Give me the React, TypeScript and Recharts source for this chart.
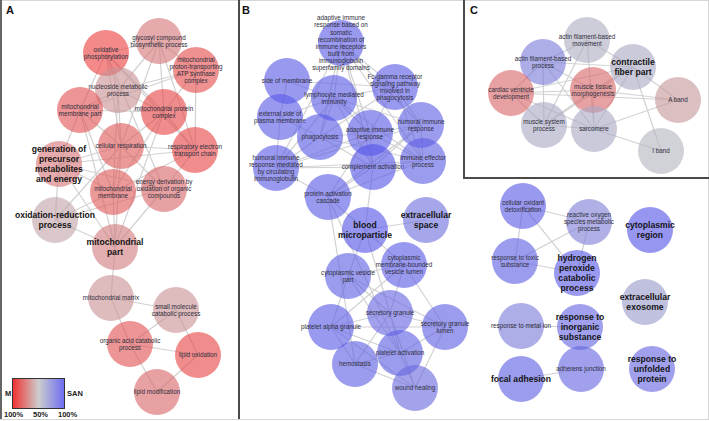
import React from 'react';
import { ReferenceLine, Scatter, ScatterChart, XAxis, YAxis } from 'recharts';

// node tuples: [id, label, x, y, score]  score < 0 -> enriched in M, > 0 -> enriched in SAN
type NodeRow = [string, string, number, number, number];

const panelA: NodeRow[] = [
    ['op', 'oxidative\nphosphorylation', 106, 53, -0.9],
    ['gc', 'glycosyl compound\nbiosynthetic process', 159, 41, -0.5],
    ['atp', 'mitochondrial\nproton-transporting\nATP synthase\ncomplex', 196, 70, -0.8],
    ['nm', 'nucleoside metabolic\nprocess', 118, 90, -0.3],
    ['mmp', 'mitochondrial\nmembrane part', 80, 110, -0.75],
    ['mpc', 'mitochondrial protein\ncomplex', 164, 112, -0.85],
    ['cr', 'cellular respiration', 121, 146, -0.7],
    ['ret', 'respiratory electron\ntransport chain', 195, 150, -0.85],
    ['gpm', 'generation of\nprecursor\nmetabolites\nand energy', 59, 164, -0.5],
    ['mm', 'mitochondrial\nmembrane', 113, 192, -0.7],
    ['ed', 'energy derivation by\noxidation of organic\ncompounds', 164, 189, -0.6],
    ['orp', 'oxidation-reduction\nprocess', 55, 220, -0.15],
    ['mp', 'mitochondrial\npart', 115, 247, -0.45],
    ['mmx', 'mitochondrial matrix', 111, 298, -0.3],
    ['smc', 'small molecule\ncatabolic process', 176, 310, -0.3],
    ['oac', 'organic acid catabolic\nprocess', 130, 344, -0.75],
    ['lo', 'lipid oxidation', 198, 355, -0.85],
    ['lm', 'lipid modification', 157, 392, -0.6],
];

const panelB: NodeRow[] = [
    ['ar', 'adaptive immune\nresponse based on\nsomatic\nrecombination of\nimmune receptors\nbuilt from\nimmunoglobulin\nsuperfamily domains', 341, 43, 0.9],
    ['sm', 'side of membrane', 287, 81, 0.9],
    ['fc', 'Fc-gamma receptor\nsignaling pathway\ninvolved in\nphagocytosis', 395, 87, 0.9],
    ['lmi', 'lymphocyte mediated\nimmunity', 334, 98, 0.9],
    ['esp', 'external side of\nplasma membrane', 280, 117, 0.9],
    ['hir', 'humoral immune\nresponse', 421, 125, 0.85],
    ['ph', 'phagocytosis', 320, 137, 0.9],
    ['air', 'adaptive immune\nresponse', 370, 133, 0.9],
    ['hirm', 'humoral immune\nresponse mediated\nby circulating\nimmunoglobulin', 276, 168, 0.9],
    ['ca', 'complement activation', 373, 167, 0.95],
    ['iep', 'immune effector\nprocess', 423, 161, 0.85],
    ['pac', 'protein activation\ncascade', 328, 197, 0.9],
    ['bm', 'blood\nmicroparticle', 365, 230, 0.95],
    ['es', 'extracellular\nspace', 426, 220, 0.7],
    ['cmv', 'cytoplasmic\nmembrane-bounded\nvesicle lumen', 404, 265, 0.9],
    ['cvp', 'cytoplasmic vesicle\npart', 348, 276, 0.85],
    ['sg', 'secretory granule', 390, 313, 0.8],
    ['pag', 'platelet alpha granule', 331, 327, 0.9],
    ['sgl', 'secretory granule\nlumen', 445, 327, 0.85],
    ['pa', 'platelet activation', 400, 353, 0.85],
    ['he', 'hemostasis', 355, 364, 0.85],
    ['wh', 'wound healing', 415, 388, 0.75],
];

const panelC: NodeRow[] = [
    ['afm', 'actin filament-based\nmovement', 587, 40, 0.1],
    ['afp', 'actin filament-based\nprocess', 543, 62, 0.6],
    ['cfp', 'contractile\nfiber part', 633, 67, 0.15],
    ['cvd', 'cardiac ventricle\ndevelopment', 511, 93, -0.6],
    ['mtm', 'muscle tissue\nmorphogenesis', 593, 90, -0.6],
    ['ab', 'A band', 678, 100, -0.25],
    ['msp', 'muscle system\nprocess', 544, 125, 0.15],
    ['sa', 'sarcomere', 594, 129, 0.15],
    ['ib', 'I band', 661, 151, 0.05],
];

const panelD: NodeRow[] = [
    ['cod', 'cellular oxidant\ndetoxification', 523, 206, 0.9],
    ['ros', 'reactive oxygen\nspecies metabolic\nprocess', 589, 222, 0.55],
    ['cyr', 'cytoplasmic\nregion', 650, 230, 0.95],
    ['rts', 'response to toxic\nsubstance', 515, 261, 0.85],
    ['hpc', 'hydrogen\nperoxide\ncatabolic\nprocess', 577, 273, 0.9],
    ['ee', 'extracellular\nexosome', 645, 302, 0.3],
    ['rmi', 'response to metal ion', 521, 326, 0.6],
    ['ris', 'response to\ninorganic\nsubstance', 580, 327, 0.8],
    ['fa', 'focal adhesion', 521, 379, 0.85],
    ['aj', 'adherens junction', 581, 369, 0.8],
    ['rup', 'response to\nunfolded\nprotein', 652, 369, 0.8],
];

// terms printed in large bold type
const leadTerms = ['gpm', 'orp', 'mp', 'bm', 'es', 'cfp', 'cyr', 'hpc', 'ee', 'ris', 'fa', 'rup'];

const edgesA: [string, string][] = [
    ['op', 'nm'], ['op', 'gc'], ['op', 'mmp'], ['op', 'cr'], ['op', 'ed'], ['op', 'ret'], ['op', 'mpc'],
    ['gc', 'nm'], ['gc', 'mpc'], ['gc', 'atp'], ['gc', 'cr'], ['gc', 'ret'],
    ['atp', 'mpc'], ['atp', 'ret'], ['atp', 'nm'], ['atp', 'mmp'],
    ['nm', 'mmp'], ['nm', 'mpc'], ['nm', 'cr'], ['nm', 'mm'],
    ['mmp', 'mpc'], ['mmp', 'cr'], ['mmp', 'gpm'], ['mmp', 'mm'], ['mmp', 'mp'],
    ['mpc', 'ret'], ['mpc', 'cr'], ['mpc', 'mm'], ['mpc', 'mp'],
    ['cr', 'gpm'], ['cr', 'ret'], ['cr', 'ed'], ['cr', 'mm'], ['cr', 'orp'], ['cr', 'mp'],
    ['ret', 'ed'], ['ret', 'mm'], ['ret', 'gpm'],
    ['gpm', 'ed'], ['gpm', 'mm'], ['gpm', 'orp'], ['gpm', 'mp'],
    ['mm', 'mp'], ['mm', 'ed'], ['ed', 'mp'], ['ed', 'orp'], ['orp', 'mp'], ['orp', 'mm'],
    ['mp', 'mmx'], ['mmx', 'smc'], ['mmx', 'oac'],
    ['smc', 'oac'], ['smc', 'lo'], ['oac', 'lo'], ['oac', 'lm'], ['lo', 'lm'],
];

const edgesB: [string, string][] = [
    ['ar', 'lmi'], ['ar', 'air'], ['ar', 'fc'], ['ar', 'hir'], ['ar', 'ph'], ['ar', 'ca'], ['ar', 'iep'], ['ar', 'hirm'],
    ['sm', 'esp'], ['sm', 'fc'], ['sm', 'lmi'],
    ['fc', 'ph'], ['fc', 'air'], ['fc', 'lmi'], ['fc', 'hir'], ['fc', 'iep'],
    ['lmi', 'air'], ['lmi', 'hir'], ['lmi', 'ph'], ['lmi', 'ca'], ['lmi', 'iep'], ['lmi', 'hirm'], ['lmi', 'esp'],
    ['esp', 'ph'], ['esp', 'hirm'],
    ['hir', 'air'], ['hir', 'iep'], ['hir', 'ca'], ['hir', 'hirm'], ['hir', 'pac'],
    ['ph', 'air'], ['ph', 'hirm'], ['ph', 'ca'], ['ph', 'iep'],
    ['air', 'ca'], ['air', 'iep'], ['air', 'hirm'], ['air', 'pac'],
    ['hirm', 'ca'], ['hirm', 'pac'], ['hirm', 'iep'],
    ['ca', 'iep'], ['ca', 'pac'], ['ca', 'bm'], ['iep', 'pac'],
    ['pac', 'bm'], ['pac', 'pa'], ['pac', 'he'],
    ['bm', 'es'], ['bm', 'cmv'], ['bm', 'cvp'], ['bm', 'sg'],
    ['cmv', 'cvp'], ['cmv', 'sg'], ['cmv', 'pag'], ['cmv', 'sgl'],
    ['cvp', 'sg'], ['cvp', 'pag'], ['cvp', 'sgl'], ['cvp', 'pa'],
    ['sg', 'pag'], ['sg', 'sgl'], ['sg', 'pa'], ['sg', 'he'], ['sg', 'wh'],
    ['pag', 'sgl'], ['pag', 'pa'], ['pag', 'he'], ['pag', 'wh'],
    ['sgl', 'pa'], ['sgl', 'wh'], ['pa', 'he'], ['pa', 'wh'], ['he', 'wh'],
];

const edgesC: [string, string][] = [
    ['afm', 'afp'], ['afm', 'cfp'], ['afm', 'msp'], ['afm', 'sa'],
    ['afp', 'cvd'], ['afp', 'msp'], ['afp', 'mtm'], ['afp', 'cfp'], ['afp', 'sa'],
    ['cvd', 'mtm'], ['cvd', 'msp'], ['cvd', 'sa'], ['cvd', 'ab'], ['cvd', 'cfp'],
    ['mtm', 'msp'], ['mtm', 'sa'], ['mtm', 'cfp'], ['mtm', 'ab'],
    ['cfp', 'ab'], ['cfp', 'ib'], ['cfp', 'sa'], ['cfp', 'msp'],
    ['ab', 'sa'], ['ib', 'sa'], ['msp', 'sa'],
];

const edgesD: [string, string][] = [
    ['cod', 'ros'], ['cod', 'rts'], ['cod', 'hpc'], ['ros', 'rts'], ['ros', 'hpc'], ['rts', 'hpc'],
    ['rmi', 'ris'], ['fa', 'aj'],
];

const RED = [240, 50, 50];
const GRAY = [185, 185, 190];
const BLUE = [80, 80, 235];

function scoreColor(s: number) {
    const end = s < 0 ? RED : BLUE;
    const t = Math.min(1, Math.abs(s));
    const c = GRAY.map((g, i) => Math.round(g + (end[i] - g) * t));
    return `rgb(${c[0]},${c[1]},${c[2]})`;
}

const toPoints = (rows: NodeRow[]) =>
    rows.map(([id, label, x, y, score]) => ({ id, label, x, y, score, lead: leadTerms.includes(id) }));

const allRows = [...panelA, ...panelB, ...panelC, ...panelD];
const lookup: Record<string, NodeRow> = {};
allRows.forEach((r) => (lookup[r[0]] = r));

const FONT = '"Liberation Sans", Arial, sans-serif';

function NodeShape(props: any) {
    const { cx, cy, payload } = props;
    const lines: string[] = payload.label.split('\n');
    const fs = payload.lead ? 8.6 : 6.3;
    const lh = payload.lead ? 10 : 7.1;
    const y0 = cy - ((lines.length - 1) * lh) / 2;
    return (
        <g>
            <circle cx={cx} cy={cy} r={23} fill={scoreColor(payload.score)} fillOpacity={0.62} />
            <text
                textAnchor="middle"
                fontFamily={FONT}
                fontSize={fs}
                fontWeight={payload.lead ? 700 : 400}
                fill={payload.lead ? '#151515' : '#2e2e3a'}
            >
                {lines.map((l, i) => (
                    <tspan key={i} x={cx} y={y0 + i * lh} dy="0.35em">
                        {l}
                    </tspan>
                ))}
            </text>
        </g>
    );
}

const allEdges = [...edgesA, ...edgesB, ...edgesC, ...edgesD];

const border = (s: React.CSSProperties): React.CSSProperties => ({
    position: 'absolute',
    pointerEvents: 'none',
    ...s,
});

const letter: React.CSSProperties = {
    position: 'absolute',
    fontFamily: FONT,
    fontWeight: 700,
    fontSize: 11,
    lineHeight: '11px',
    color: '#111',
};

const small: React.CSSProperties = {
    position: 'absolute',
    fontFamily: FONT,
    fontWeight: 700,
    fontSize: 7.5,
    lineHeight: '8px',
    color: '#222',
    whiteSpace: 'nowrap',
};

export default function App() {
    return (
        <div
            style={{
                position: 'absolute',
                left: 0,
                top: 0,
                width: 709,
                height: 421,
                background: '#fff',
                overflow: 'hidden',
            }}
        >
            <ScatterChart width={709} height={421} margin={{ top: 0, right: 0, bottom: 0, left: 0 }}>
                <XAxis type="number" dataKey="x" domain={[0, 709]} hide allowDataOverflow />
                <YAxis type="number" dataKey="y" domain={[0, 421]} reversed hide allowDataOverflow />
                {allEdges.map(([a, b], i) => (
                    <ReferenceLine
                        key={`e${i}`}
                        segment={[
                            { x: lookup[a][2], y: lookup[a][3] },
                            { x: lookup[b][2], y: lookup[b][3] },
                        ]}
                        stroke="#d2d2d2"
                        strokeWidth={1.2}
                        ifOverflow="visible"
                    />
                ))}
                <Scatter data={toPoints(panelA)} shape={NodeShape} isAnimationActive={false} />
                <Scatter data={toPoints(panelB)} shape={NodeShape} isAnimationActive={false} />
                <Scatter data={toPoints(panelC)} shape={NodeShape} isAnimationActive={false} />
                <Scatter data={toPoints(panelD)} shape={NodeShape} isAnimationActive={false} />
            </ScatterChart>

            {/* frame and panel borders */}
            <div style={border({ left: 0, top: 0, width: 709, height: 420, border: '1px solid #d6d6d6', boxSizing: 'border-box' })} />
            <div style={border({ left: 0, top: 0, width: 1.5, height: 419, background: '#666' })} />
            <div style={border({ left: 238, top: 0, width: 2, height: 419, background: '#4a4a4a' })} />
            <div style={border({ left: 463, top: 0, width: 2, height: 179, background: '#4a4a4a' })} />
            <div style={border({ left: 463, top: 177, width: 246, height: 2, background: '#4a4a4a' })} />

            <div style={{ ...letter, left: 6, top: 5 }}>A</div>
            <div style={{ ...letter, left: 242, top: 5 }}>B</div>
            <div style={{ ...letter, left: 470, top: 5 }}>C</div>

            {/* colour key */}
            <div
                style={border({
                    left: 12,
                    top: 378,
                    width: 53,
                    height: 31,
                    border: '1px solid #333',
                    boxSizing: 'border-box',
                    background: 'linear-gradient(to right, rgb(240,50,50), rgb(205,205,205), rgb(110,110,240))',
                })}
            />
            <div style={{ ...small, left: 5, top: 390 }}>M</div>
            <div style={{ ...small, left: 67, top: 390 }}>SAN</div>
            <div style={{ ...small, left: 4, top: 411 }}>100%</div>
            <div style={{ ...small, left: 33, top: 411 }}>50%</div>
            <div style={{ ...small, left: 58, top: 411 }}>100%</div>
        </div>
    );
}
